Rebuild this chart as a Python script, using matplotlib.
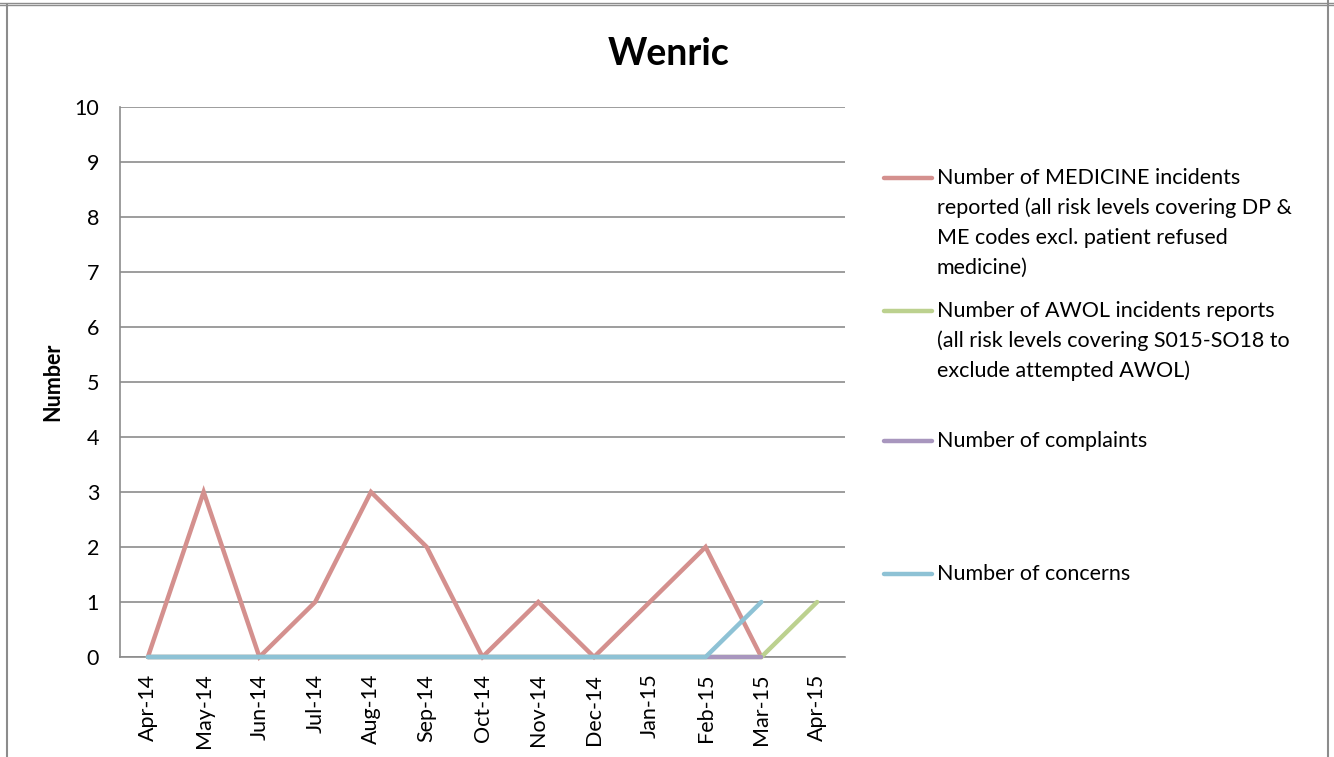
import matplotlib
matplotlib.use('agg')
import matplotlib.pyplot as plt
from matplotlib.lines import Line2D

plt.rcParams['font.family'] = ['Lato', 'DejaVu Sans']

# Data
months = ['Apr-14', 'May-14', 'Jun-14', 'Jul-14', 'Aug-14', 'Sep-14', 'Oct-14',
          'Nov-14', 'Dec-14', 'Jan-15', 'Feb-15', 'Mar-15', 'Apr-15']
medicine = [0, 3, 0, 1, 3, 2, 0, 1, 0, 1, 2, 0]
awol = [0, 0, 0, 0, 0, 0, 0, 0, 0, 0, 0, 0, 1]
complaints = [0, 0, 0, 0, 0, 0, 0, 0, 0, 0, 0, 0]
concerns = [0, 0, 0, 0, 0, 0, 0, 0, 0, 0, 0, 1]

labels = [
    ['Number of MEDICINE incidents', 'reported (all risk levels covering DP &',
     'ME codes excl. patient refused', 'medicine)'],
    ['Number of AWOL incidents reports', '(all risk levels covering S015-SO18 to',
     'exclude attempted AWOL)'],
    ['Number of complaints'],
    ['Number of concerns'],
]
colors = ['#D4908E', '#BCD18F', '#A896BE', '#8EC2D5']
series = [medicine, awol, complaints, concerns]

FS = 15.5
W, H = 1334, 757
fig = plt.figure(figsize=(W / 100, H / 100), dpi=100)

# Plot area (pixel layout)
ax = fig.add_axes([120 / W, (H - 657) / H, 725 / W, 550 / H])
for vals, c in zip(series, colors):
    ax.plot(range(len(vals)), vals, color=c, linewidth=3.2, solid_capstyle='round',
            solid_joinstyle='miter', clip_on=False, zorder=3)

ax.set_xlim(-0.5, len(months) - 0.5)
ax.set_ylim(0, 10)
ax.set_yticks(range(0, 11))
ax.set_xticks(range(len(months)))
ax.set_xticklabels(months, rotation=90, va='top', ha='center')
ax.tick_params(axis='both', length=0, labelsize=FS, colors='black')
ax.tick_params(axis='x', pad=12)
ax.tick_params(axis='y', pad=15)
ax.yaxis.grid(True, color='#8C8C8C', linewidth=1.2)
ax.set_axisbelow(True)
for s in ['top', 'right']:
    ax.spines[s].set_visible(False)
for s in ['left', 'bottom']:
    ax.spines[s].set_color('#8C8C8C')
    ax.spines[s].set_linewidth(1.2)
ax.set_ylabel('Number', fontsize=FS, fontweight='bold', labelpad=8)

# Title
fig.text(669 / W, 1 - 54 / H, 'Wenric', fontsize=27, fontweight='bold',
         ha='center', va='center')

# Legend (drawn by hand to match layout)
entry_y = [178, 311, 441, 574]
for lines, c, y0 in zip(labels, colors, entry_y):
    fig.add_artist(Line2D([884 / W, 932 / W], [1 - y0 / H, 1 - y0 / H],
                          color=c, linewidth=3.2, solid_capstyle='round'))
    for i, t in enumerate(lines):
        fig.text(937 / W, 1 - (y0 + i * 30) / H, t, fontsize=FS,
                 ha='left', va='center')

# Outer frame
frame = '#8C8C8C'
fig.add_artist(Line2D([0, 1], [1 - 2.5 / H, 1 - 2.5 / H], color=frame, linewidth=1))
fig.add_artist(Line2D([0, 1], [1 - 5 / H, 1 - 5 / H], color=frame, linewidth=1))
fig.add_artist(Line2D([7 / W, 7 / W], [0, 1 - 5 / H], color=frame, linewidth=1.5))
fig.add_artist(Line2D([1328 / W, 1328 / W], [0, 1], color=frame, linewidth=1.5))

plt.savefig('out.png', dpi=100)
